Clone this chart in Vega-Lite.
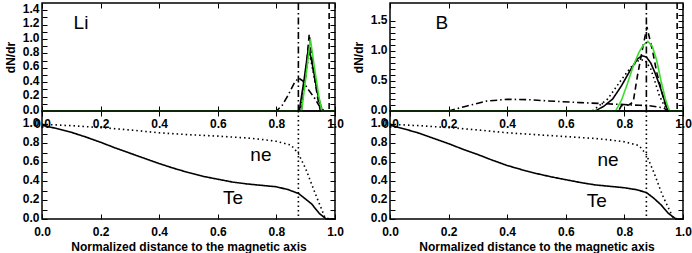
{
  "$schema": "https://vega.github.io/schema/vega-lite/v6.json",
  "background": "white",
  "padding": {"left": 3, "top": 1, "right": 0, "bottom": 0},
  "config": {
    "view": {"stroke": "black", "strokeWidth": 1.5},
    "axis": {
      "domain": false, "grid": false, "ticks": true, "tickSize": -5, "tickColor": "black", "tickWidth": 1,
      "labelFont": "Liberation Sans", "labelFontWeight": "bold", "labelFontSize": 12, "labelColor": "black",
      "titleFont": "Liberation Sans", "titleFontWeight": "bold", "titleFontSize": 12, "titleColor": "black",
      "labelFlush": false, "labelOverlap": false
    },
    "axisX": {"labelPadding": 12},
    "axisY": {"labelPadding": 8, "labelOffset": -2, "titlePadding": 5},
    "text": {"font": "Liberation Sans", "fontSize": 19, "color": "black"},
    "line": {"strokeWidth": 1.6},
    "rule": {"strokeWidth": 1.6}
  },
  "datasets": {
    "li": [
      {"x": 0, "y": 0, "s": "solid"}, {"x": 0.878, "y": 0, "s": "solid"}, {"x": 0.895, "y": 0.45, "s": "solid"}, {"x": 0.91, "y": 0.9, "s": "solid"}, {"x": 0.925, "y": 0.6, "s": "solid"}, {"x": 0.94, "y": 0.25, "s": "solid"}, {"x": 0.955, "y": 0.02, "s": "solid"}, {"x": 0.96, "y": 0, "s": "solid"}, {"x": 1, "y": 0, "s": "solid"},
      {"x": 0, "y": 0, "s": "dashed"}, {"x": 0.885, "y": 0, "s": "dashed"}, {"x": 0.9, "y": 0.5, "s": "dashed"}, {"x": 0.912, "y": 1.07, "s": "dashed"}, {"x": 0.925, "y": 0.6, "s": "dashed"}, {"x": 0.94, "y": 0.2, "s": "dashed"}, {"x": 0.95, "y": 0, "s": "dashed"}, {"x": 1, "y": 0, "s": "dashed"},
      {"x": 0, "y": 0, "s": "dotted"}, {"x": 0.88, "y": 0, "s": "dotted"}, {"x": 0.9, "y": 0.5, "s": "dotted"}, {"x": 0.912, "y": 0.82, "s": "dotted"}, {"x": 0.93, "y": 0.45, "s": "dotted"}, {"x": 0.95, "y": 0.08, "s": "dotted"}, {"x": 0.96, "y": 0, "s": "dotted"}, {"x": 1, "y": 0, "s": "dotted"},
      {"x": 0, "y": 0, "s": "dashdot"}, {"x": 0.8, "y": 0, "s": "dashdot"}, {"x": 0.82, "y": 0.08, "s": "dashdot"}, {"x": 0.84, "y": 0.22, "s": "dashdot"}, {"x": 0.86, "y": 0.38, "s": "dashdot"}, {"x": 0.875, "y": 0.46, "s": "dashdot"}, {"x": 0.89, "y": 0.42, "s": "dashdot"}, {"x": 0.905, "y": 0.32, "s": "dashdot"}, {"x": 0.93, "y": 0.18, "s": "dashdot"}, {"x": 0.945, "y": 0.08, "s": "dashdot"}, {"x": 0.958, "y": 0.02, "s": "dashdot"}, {"x": 0.965, "y": 0, "s": "dashdot"}, {"x": 1, "y": 0, "s": "dashdot"},
      {"x": 0, "y": 0, "s": "green"}, {"x": 0.886, "y": 0, "s": "green"}, {"x": 0.9, "y": 0.45, "s": "green"}, {"x": 0.916, "y": 1.0, "s": "green"}, {"x": 0.93, "y": 0.6, "s": "green"}, {"x": 0.945, "y": 0.2, "s": "green"}, {"x": 0.955, "y": 0, "s": "green"}, {"x": 1, "y": 0, "s": "green"}
    ],
    "b": [
      {"x": 0, "y": 0, "s": "solid"}, {"x": 0.7, "y": 0, "s": "solid"}, {"x": 0.73, "y": 0.08, "s": "solid"}, {"x": 0.76, "y": 0.2, "s": "solid"}, {"x": 0.79, "y": 0.42, "s": "solid"}, {"x": 0.82, "y": 0.68, "s": "solid"}, {"x": 0.845, "y": 0.87, "s": "solid"}, {"x": 0.86, "y": 0.92, "s": "solid"}, {"x": 0.875, "y": 0.9, "s": "solid"}, {"x": 0.89, "y": 0.8, "s": "solid"}, {"x": 0.905, "y": 0.63, "s": "solid"}, {"x": 0.92, "y": 0.43, "s": "solid"}, {"x": 0.935, "y": 0.2, "s": "solid"}, {"x": 0.945, "y": 0.05, "s": "solid"}, {"x": 0.95, "y": 0, "s": "solid"}, {"x": 1, "y": 0, "s": "solid"},
      {"x": 0, "y": 0, "s": "dashed"}, {"x": 0.78, "y": 0, "s": "dashed"}, {"x": 0.79, "y": 0.09, "s": "dashed"}, {"x": 0.815, "y": 0.1, "s": "dashed"}, {"x": 0.83, "y": 0.15, "s": "dashed"}, {"x": 0.845, "y": 0.6, "s": "dashed"}, {"x": 0.862, "y": 1.04, "s": "dashed"}, {"x": 0.877, "y": 1.4, "s": "dashed"}, {"x": 0.897, "y": 0.98, "s": "dashed"}, {"x": 0.91, "y": 0.65, "s": "dashed"}, {"x": 0.925, "y": 0.37, "s": "dashed"}, {"x": 0.94, "y": 0.1, "s": "dashed"}, {"x": 0.95, "y": 0, "s": "dashed"}, {"x": 1, "y": 0, "s": "dashed"},
      {"x": 0, "y": 0, "s": "dotted"}, {"x": 0.69, "y": 0, "s": "dotted"}, {"x": 0.743, "y": 0.2, "s": "dotted"}, {"x": 0.788, "y": 0.51, "s": "dotted"}, {"x": 0.822, "y": 0.73, "s": "dotted"}, {"x": 0.85, "y": 0.85, "s": "dotted"}, {"x": 0.87, "y": 0.85, "s": "dotted"}, {"x": 0.89, "y": 0.7, "s": "dotted"}, {"x": 0.905, "y": 0.48, "s": "dotted"}, {"x": 0.919, "y": 0.26, "s": "dotted"}, {"x": 0.935, "y": 0.1, "s": "dotted"}, {"x": 0.945, "y": 0, "s": "dotted"}, {"x": 1, "y": 0, "s": "dotted"},
      {"x": 0, "y": 0, "s": "dashdot"}, {"x": 0.2, "y": 0, "s": "dashdot"}, {"x": 0.26, "y": 0.08, "s": "dashdot"}, {"x": 0.33, "y": 0.165, "s": "dashdot"}, {"x": 0.4, "y": 0.195, "s": "dashdot"}, {"x": 0.47, "y": 0.19, "s": "dashdot"}, {"x": 0.54, "y": 0.167, "s": "dashdot"}, {"x": 0.65, "y": 0.14, "s": "dashdot"}, {"x": 0.74, "y": 0.12, "s": "dashdot"}, {"x": 0.853, "y": 0.095, "s": "dashdot"}, {"x": 0.88, "y": 0.09, "s": "dashdot"}, {"x": 0.91, "y": 0.07, "s": "dashdot"}, {"x": 0.934, "y": 0.05, "s": "dashdot"}, {"x": 0.95, "y": 0, "s": "dashdot"}, {"x": 1, "y": 0, "s": "dashdot"},
      {"x": 0, "y": 0, "s": "green"}, {"x": 0.77, "y": 0, "s": "green"}, {"x": 0.79, "y": 0.18, "s": "green"}, {"x": 0.81, "y": 0.45, "s": "green"}, {"x": 0.83, "y": 0.75, "s": "green"}, {"x": 0.85, "y": 0.98, "s": "green"}, {"x": 0.865, "y": 1.1, "s": "green"}, {"x": 0.88, "y": 1.16, "s": "green"}, {"x": 0.895, "y": 1.08, "s": "green"}, {"x": 0.91, "y": 0.85, "s": "green"}, {"x": 0.925, "y": 0.5, "s": "green"}, {"x": 0.94, "y": 0.2, "s": "green"}, {"x": 0.95, "y": 0.05, "s": "green"}, {"x": 0.955, "y": 0, "s": "green"}, {"x": 1, "y": 0, "s": "green"}
    ],
    "profL": [
      {"x": 0, "y": 0.99, "s": "solid"}, {"x": 0.05, "y": 0.955, "s": "solid"}, {"x": 0.1, "y": 0.915, "s": "solid"}, {"x": 0.15, "y": 0.865, "s": "solid"}, {"x": 0.2, "y": 0.81, "s": "solid"}, {"x": 0.25, "y": 0.75, "s": "solid"}, {"x": 0.3, "y": 0.695, "s": "solid"}, {"x": 0.35, "y": 0.64, "s": "solid"}, {"x": 0.4, "y": 0.585, "s": "solid"}, {"x": 0.45, "y": 0.535, "s": "solid"}, {"x": 0.5, "y": 0.49, "s": "solid"}, {"x": 0.55, "y": 0.45, "s": "solid"}, {"x": 0.6, "y": 0.42, "s": "solid"}, {"x": 0.65, "y": 0.39, "s": "solid"}, {"x": 0.7, "y": 0.37, "s": "solid"}, {"x": 0.75, "y": 0.355, "s": "solid"}, {"x": 0.8, "y": 0.34, "s": "solid"}, {"x": 0.84, "y": 0.31, "s": "solid"}, {"x": 0.875, "y": 0.27, "s": "solid"}, {"x": 0.9, "y": 0.21, "s": "solid"}, {"x": 0.92, "y": 0.16, "s": "solid"}, {"x": 0.946, "y": 0.06, "s": "solid"}, {"x": 0.97, "y": 0, "s": "solid"}, {"x": 1, "y": 0, "s": "solid"},
      {"x": 0, "y": 1.0, "s": "dotted"}, {"x": 0.1, "y": 0.985, "s": "dotted"}, {"x": 0.2, "y": 0.965, "s": "dotted"}, {"x": 0.3, "y": 0.94, "s": "dotted"}, {"x": 0.4, "y": 0.91, "s": "dotted"}, {"x": 0.5, "y": 0.89, "s": "dotted"}, {"x": 0.6, "y": 0.875, "s": "dotted"}, {"x": 0.7, "y": 0.855, "s": "dotted"}, {"x": 0.75, "y": 0.84, "s": "dotted"}, {"x": 0.8, "y": 0.82, "s": "dotted"}, {"x": 0.85, "y": 0.78, "s": "dotted"}, {"x": 0.875, "y": 0.69, "s": "dotted"}, {"x": 0.9, "y": 0.53, "s": "dotted"}, {"x": 0.935, "y": 0.25, "s": "dotted"}, {"x": 0.965, "y": 0.02, "s": "dotted"}, {"x": 0.98, "y": 0, "s": "dotted"}, {"x": 1, "y": 0, "s": "dotted"}
    ],
    "profR": [
      {"x": 0, "y": 0.99, "s": "solid"}, {"x": 0.05, "y": 0.95, "s": "solid"}, {"x": 0.1, "y": 0.905, "s": "solid"}, {"x": 0.15, "y": 0.85, "s": "solid"}, {"x": 0.2, "y": 0.795, "s": "solid"}, {"x": 0.25, "y": 0.735, "s": "solid"}, {"x": 0.3, "y": 0.68, "s": "solid"}, {"x": 0.35, "y": 0.62, "s": "solid"}, {"x": 0.4, "y": 0.565, "s": "solid"}, {"x": 0.45, "y": 0.52, "s": "solid"}, {"x": 0.5, "y": 0.48, "s": "solid"}, {"x": 0.55, "y": 0.445, "s": "solid"}, {"x": 0.6, "y": 0.415, "s": "solid"}, {"x": 0.65, "y": 0.385, "s": "solid"}, {"x": 0.7, "y": 0.36, "s": "solid"}, {"x": 0.75, "y": 0.345, "s": "solid"}, {"x": 0.8, "y": 0.33, "s": "solid"}, {"x": 0.84, "y": 0.31, "s": "solid"}, {"x": 0.875, "y": 0.28, "s": "solid"}, {"x": 0.9, "y": 0.22, "s": "solid"}, {"x": 0.925, "y": 0.15, "s": "solid"}, {"x": 0.95, "y": 0.06, "s": "solid"}, {"x": 0.976, "y": 0, "s": "solid"}, {"x": 1, "y": 0, "s": "solid"},
      {"x": 0, "y": 1.0, "s": "dotted"}, {"x": 0.1, "y": 0.985, "s": "dotted"}, {"x": 0.2, "y": 0.965, "s": "dotted"}, {"x": 0.3, "y": 0.94, "s": "dotted"}, {"x": 0.4, "y": 0.91, "s": "dotted"}, {"x": 0.5, "y": 0.89, "s": "dotted"}, {"x": 0.6, "y": 0.87, "s": "dotted"}, {"x": 0.7, "y": 0.85, "s": "dotted"}, {"x": 0.75, "y": 0.835, "s": "dotted"}, {"x": 0.8, "y": 0.815, "s": "dotted"}, {"x": 0.85, "y": 0.775, "s": "dotted"}, {"x": 0.875, "y": 0.68, "s": "dotted"}, {"x": 0.902, "y": 0.48, "s": "dotted"}, {"x": 0.93, "y": 0.25, "s": "dotted"}, {"x": 0.965, "y": 0.02, "s": "dotted"}, {"x": 0.98, "y": 0, "s": "dotted"}, {"x": 1, "y": 0, "s": "dotted"}
    ]
  },
  "columns": 2,
  "spacing": {"row": 0, "column": 55},
  "bounds": "flush",
  "concat": [
    {
      "width": 293, "height": 108,
      "layer": [
        {
          "data": {"name": "li"},
          "transform": [{"filter": "datum.s != 'green'"}],
          "mark": {"type": "line"},
          "encoding": {
            "x": {"field": "x", "type": "quantitative", "scale": {"domain": [0, 1], "nice": false, "zero": false}, "axis": {"orient": "bottom", "values": [0, 0.2, 0.4, 0.6, 0.8, 1.0], "format": ".1f", "title": null}},
            "y": {"field": "y", "type": "quantitative", "scale": {"domain": [0, 1.5], "nice": false}, "axis": {"values": [0, 0.1, 0.2, 0.3, 0.4, 0.5, 0.6, 0.7, 0.8, 0.9, 1.0, 1.1, 1.2, 1.3, 1.4], "labelExpr": "abs(datum.value*5 - round(datum.value*5)) < 0.001 ? format(datum.value, '.1f') : ''", "title": "dN/dr"}},
            "color": {"field": "s", "type": "nominal", "scale": {"domain": ["solid", "dashed", "dotted", "dashdot", "green"], "range": ["black", "black", "black", "black", "#3cdc2c"]}, "legend": null},
            "strokeDash": {"field": "s", "type": "nominal", "scale": {"domain": ["solid", "dashed", "dotted", "dashdot", "green"], "range": [[1, 0], [6, 4], [1.5, 3], [7, 3, 1.5, 3], [1, 0]]}, "legend": null}
          }
        },
        {
          "data": {"name": "li"},
          "transform": [{"filter": "datum.s == 'green'"}],
          "mark": {"type": "line", "color": "#3cdc2c"},
          "encoding": {
            "x": {"field": "x", "type": "quantitative", "scale": {"domain": [0, 1], "nice": false, "zero": false}, "axis": null},
            "y": {"field": "y", "type": "quantitative", "axis": null}
          }
        },
        {
          "data": {"values": [{"x": 0.875, "s": "dashdot"}, {"x": 0.98, "s": "dashed"}]},
          "mark": {"type": "rule", "color": "black"},
          "encoding": {
            "x": {"field": "x", "type": "quantitative", "scale": {"domain": [0, 1], "nice": false, "zero": false}, "axis": {"orient": "top", "labels": false, "values": [0, 0.2, 0.4, 0.6, 0.8, 1.0], "title": null}},
            "strokeDash": {"field": "s", "type": "nominal", "scale": {"domain": ["solid", "dashed", "dotted", "dashdot", "green"], "range": [[1, 0], [6, 4], [1.5, 3], [7, 3, 1.5, 3], [1, 0]]}, "legend": null}
          }
        },
        {
          "data": {"values": [{"x": 0.133, "y": 1.22, "t": "Li"}]},
          "mark": {"type": "text"},
          "encoding": {
            "x": {"field": "x", "type": "quantitative", "scale": {"domain": [0, 1], "nice": false, "zero": false}, "axis": null},
            "y": {"field": "y", "type": "quantitative", "axis": {"orient": "right", "labels": false, "title": null, "values": [0, 0.1, 0.2, 0.3, 0.4, 0.5, 0.6, 0.7, 0.8, 0.9, 1.0, 1.1, 1.2, 1.3, 1.4]}},
            "text": {"field": "t"}
          }
        }
      ],
      "resolve": {"axis": {"x": "independent", "y": "independent"}}
    },
    {
      "width": 293, "height": 108,
      "layer": [
        {
          "data": {"name": "b"},
          "transform": [{"filter": "datum.s != 'green'"}],
          "mark": {"type": "line"},
          "encoding": {
            "x": {"field": "x", "type": "quantitative", "scale": {"domain": [0, 1], "nice": false, "zero": false}, "axis": {"orient": "bottom", "values": [0, 0.2, 0.4, 0.6, 0.8, 1.0], "format": ".1f", "title": null}},
            "y": {"field": "y", "type": "quantitative", "scale": {"domain": [0, 1.8], "nice": false}, "axis": {"values": [0, 0.1, 0.2, 0.3, 0.4, 0.5, 0.6, 0.7, 0.8, 0.9, 1.0, 1.1, 1.2, 1.3, 1.4, 1.5], "labelExpr": "abs(datum.value*2 - round(datum.value*2)) < 0.001 ? format(datum.value, '.1f') : ''", "title": "dN/dr"}},
            "color": {"field": "s", "type": "nominal", "scale": {"domain": ["solid", "dashed", "dotted", "dashdot", "green"], "range": ["black", "black", "black", "black", "#3cdc2c"]}, "legend": null},
            "strokeDash": {"field": "s", "type": "nominal", "scale": {"domain": ["solid", "dashed", "dotted", "dashdot", "green"], "range": [[1, 0], [6, 4], [1.5, 3], [7, 3, 1.5, 3], [1, 0]]}, "legend": null}
          }
        },
        {
          "data": {"name": "b"},
          "transform": [{"filter": "datum.s == 'green'"}],
          "mark": {"type": "line", "color": "#3cdc2c"},
          "encoding": {
            "x": {"field": "x", "type": "quantitative", "scale": {"domain": [0, 1], "nice": false, "zero": false}, "axis": null},
            "y": {"field": "y", "type": "quantitative", "axis": null}
          }
        },
        {
          "data": {"values": [{"x": 0.875, "s": "dashdot"}, {"x": 0.98, "s": "dashed"}]},
          "mark": {"type": "rule", "color": "black"},
          "encoding": {
            "x": {"field": "x", "type": "quantitative", "scale": {"domain": [0, 1], "nice": false, "zero": false}, "axis": {"orient": "top", "labels": false, "values": [0, 0.2, 0.4, 0.6, 0.8, 1.0], "title": null}},
            "strokeDash": {"field": "s", "type": "nominal", "scale": {"domain": ["solid", "dashed", "dotted", "dashdot", "green"], "range": [[1, 0], [6, 4], [1.5, 3], [7, 3, 1.5, 3], [1, 0]]}, "legend": null}
          }
        },
        {
          "data": {"values": [{"x": 0.177, "y": 1.47, "t": "B"}]},
          "mark": {"type": "text"},
          "encoding": {
            "x": {"field": "x", "type": "quantitative", "scale": {"domain": [0, 1], "nice": false, "zero": false}, "axis": null},
            "y": {"field": "y", "type": "quantitative", "axis": {"orient": "right", "labels": false, "title": null, "values": [0, 0.1, 0.2, 0.3, 0.4, 0.5, 0.6, 0.7, 0.8, 0.9, 1.0, 1.1, 1.2, 1.3, 1.4, 1.5, 1.6, 1.7]}},
            "text": {"field": "t"}
          }
        }
      ],
      "resolve": {"axis": {"x": "independent", "y": "independent"}}
    },
    {
      "width": 293, "height": 108,
      "layer": [
        {
          "data": {"name": "profL"},
          "mark": {"type": "line", "color": "black"},
          "encoding": {
            "x": {"field": "x", "type": "quantitative", "scale": {"domain": [0, 1], "nice": false, "zero": false}, "axis": {"orient": "bottom", "values": [0, 0.2, 0.4, 0.6, 0.8, 1.0], "format": ".1f", "title": "Normalized distance to the magnetic axis", "titlePadding": 4}},
            "y": {"field": "y", "type": "quantitative", "scale": {"domain": [0, 1.14], "nice": false}, "axis": {"values": [0, 0.1, 0.2, 0.3, 0.4, 0.5, 0.6, 0.7, 0.8, 0.9, 1.0], "labelExpr": "abs(datum.value*5 - round(datum.value*5)) < 0.001 ? format(datum.value, '.1f') : ''", "title": null}},
            "strokeDash": {"field": "s", "type": "nominal", "scale": {"domain": ["solid", "dotted"], "range": [[1, 0], [1.5, 3]]}, "legend": null}
          }
        },
        {
          "data": {"values": [{"x": 0.875}]},
          "mark": {"type": "rule", "color": "black", "strokeDash": [1.5, 3]},
          "encoding": {
            "x": {"field": "x", "type": "quantitative", "scale": {"domain": [0, 1], "nice": false, "zero": false}, "axis": {"orient": "top", "labels": false, "values": [0, 0.2, 0.4, 0.6, 0.8, 1.0], "title": null}}
          }
        },
        {
          "data": {"values": [{"x": 0.747, "y": 0.676, "t": "ne"}, {"x": 0.652, "y": 0.22, "t": "Te"}]},
          "mark": {"type": "text"},
          "encoding": {
            "x": {"field": "x", "type": "quantitative", "scale": {"domain": [0, 1], "nice": false, "zero": false}, "axis": null},
            "y": {"field": "y", "type": "quantitative", "axis": {"orient": "right", "labels": false, "title": null, "values": [0, 0.1, 0.2, 0.3, 0.4, 0.5, 0.6, 0.7, 0.8, 0.9, 1.0, 1.1]}},
            "text": {"field": "t"}
          }
        }
      ],
      "resolve": {"axis": {"x": "independent", "y": "independent"}}
    },
    {
      "width": 293, "height": 108,
      "layer": [
        {
          "data": {"name": "profR"},
          "mark": {"type": "line", "color": "black"},
          "encoding": {
            "x": {"field": "x", "type": "quantitative", "scale": {"domain": [0, 1], "nice": false, "zero": false}, "axis": {"orient": "bottom", "values": [0, 0.2, 0.4, 0.6, 0.8, 1.0], "format": ".1f", "title": "Normalized distance to the magnetic axis", "titlePadding": 4}},
            "y": {"field": "y", "type": "quantitative", "scale": {"domain": [0, 1.14], "nice": false}, "axis": {"values": [0, 0.1, 0.2, 0.3, 0.4, 0.5, 0.6, 0.7, 0.8, 0.9, 1.0], "labelExpr": "abs(datum.value*5 - round(datum.value*5)) < 0.001 ? format(datum.value, '.1f') : ''", "title": null}},
            "strokeDash": {"field": "s", "type": "nominal", "scale": {"domain": ["solid", "dotted"], "range": [[1, 0], [1.5, 3]]}, "legend": null}
          }
        },
        {
          "data": {"values": [{"x": 0.875}]},
          "mark": {"type": "rule", "color": "black", "strokeDash": [1.5, 3]},
          "encoding": {
            "x": {"field": "x", "type": "quantitative", "scale": {"domain": [0, 1], "nice": false, "zero": false}, "axis": {"orient": "top", "labels": false, "values": [0, 0.2, 0.4, 0.6, 0.8, 1.0], "title": null}}
          }
        },
        {
          "data": {"values": [{"x": 0.744, "y": 0.62, "t": "ne"}, {"x": 0.706, "y": 0.19, "t": "Te"}]},
          "mark": {"type": "text"},
          "encoding": {
            "x": {"field": "x", "type": "quantitative", "scale": {"domain": [0, 1], "nice": false, "zero": false}, "axis": null},
            "y": {"field": "y", "type": "quantitative", "axis": {"orient": "right", "labels": false, "title": null, "values": [0, 0.1, 0.2, 0.3, 0.4, 0.5, 0.6, 0.7, 0.8, 0.9, 1.0, 1.1]}},
            "text": {"field": "t"}
          }
        }
      ],
      "resolve": {"axis": {"x": "independent", "y": "independent"}}
    }
  ]
}
